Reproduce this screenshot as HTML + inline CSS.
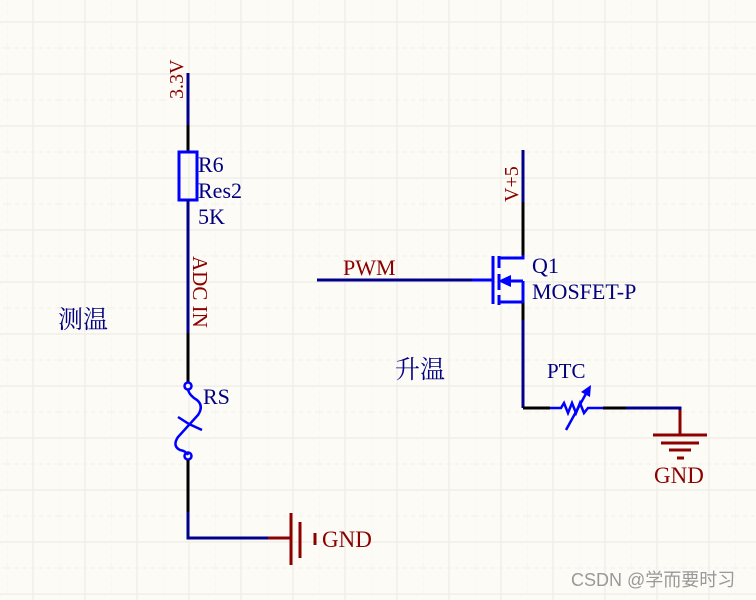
<!DOCTYPE html>
<html><head><style>
html,body{margin:0;padding:0;background:#fdfbf6;}
svg{display:block;}
text{font-family:"Liberation Serif","Noto Serif CJK SC",serif;}
</style></head><body>
<svg width="756" height="600" viewBox="0 0 756 600" xmlns="http://www.w3.org/2000/svg">
<defs>
<pattern id="g" x="7" y="-5" width="52" height="52" patternUnits="userSpaceOnUse">
<line x1="26" y1="0" x2="26" y2="52" stroke="#f0eee8" stroke-width="1.5"/>
<line x1="0" y1="27" x2="52" y2="27" stroke="#f0eee8" stroke-width="1.5"/>
<line x1="0" y1="0" x2="0" y2="52" stroke="#f3f1eb" stroke-width="1.2" stroke-dasharray="4,4"/>
<line x1="0" y1="1" x2="52" y2="1" stroke="#f3f1eb" stroke-width="1.2" stroke-dasharray="4,4"/>
</pattern>
</defs>
<rect width="756" height="600" fill="#fdfbf6"/>
<rect width="756" height="600" fill="url(#g)"/>

<!-- left circuit -->
<line x1="188" y1="73" x2="188" y2="125" stroke="#00008c" stroke-width="3"/>
<line x1="188" y1="125" x2="188" y2="152" stroke="#000" stroke-width="3"/>
<rect x="179" y="152" width="18" height="48" fill="none" stroke="#0000ff" stroke-width="3"/>
<line x1="188" y1="200" x2="188" y2="333" stroke="#00008c" stroke-width="3"/>
<line x1="188" y1="333" x2="188" y2="382" stroke="#000" stroke-width="3"/>
<circle cx="188" cy="386" r="3.5" fill="none" stroke="#0000ff" stroke-width="2.5"/>
<path d="M188 390 Q190 396 197 400 Q204 406 198 415 L178 437 Q172 446 180 450 Q186 451 188 455" fill="none" stroke="#0000ff" stroke-width="2.5"/>
<path d="M178 417 L189 424 L202 430" fill="none" stroke="#0000ff" stroke-width="2.5"/>
<circle cx="188" cy="456" r="3.5" fill="none" stroke="#0000ff" stroke-width="2.5"/>
<line x1="188" y1="460" x2="188" y2="512" stroke="#000" stroke-width="3"/>
<polyline points="188,512 188,538 268,538" fill="none" stroke="#00008c" stroke-width="3"/>
<line x1="268" y1="538" x2="291" y2="538" stroke="#8c0000" stroke-width="3"/>
<line x1="291" y1="513" x2="291" y2="565" stroke="#8c0000" stroke-width="3"/>
<line x1="300" y1="522" x2="300" y2="558" stroke="#8c0000" stroke-width="3"/>
<line x1="315" y1="533" x2="315" y2="545" stroke="#8c0000" stroke-width="3"/>
<text x="322" y="547" font-size="23" fill="#8c0000">GND</text>

<text transform="translate(183,99) rotate(-90)" font-size="20" fill="#8c0000">3.3V</text>
<text x="198" y="172" font-size="22" fill="#000080">R6</text>
<text x="198" y="198" font-size="22" fill="#000080">Res2</text>
<text x="198" y="224" font-size="22" fill="#000080">5K</text>
<text transform="translate(193,256) rotate(90)" font-size="21" fill="#8c0000">ADC  IN</text>
<text x="203" y="404" font-size="22" fill="#000080">RS</text>
<text x="58" y="328" font-size="25" fill="#000080">测温</text>

<!-- right circuit -->
<line x1="523" y1="150" x2="523" y2="202" stroke="#00008c" stroke-width="3"/>
<line x1="523" y1="202" x2="523" y2="255" stroke="#000" stroke-width="3"/>
<polyline points="498,258 523,258 523,255" fill="none" stroke="#0000ff" stroke-width="3"/>
<polyline points="498,302 523,302 523,281" fill="none" stroke="#0000ff" stroke-width="3"/>
<line x1="508" y1="281" x2="523" y2="281" stroke="#0000ff" stroke-width="3"/>
<polygon points="498,281 511,275 511,287" fill="#0000ff"/>
<line x1="493" y1="256" x2="493" y2="304" stroke="#0000ff" stroke-width="3"/>
<line x1="499" y1="256" x2="499" y2="268" stroke="#0000ff" stroke-width="3"/>
<line x1="499" y1="274" x2="499" y2="290" stroke="#0000ff" stroke-width="3"/>
<line x1="499" y1="295" x2="499" y2="305" stroke="#0000ff" stroke-width="3"/>
<line x1="317" y1="280" x2="472" y2="280" stroke="#00008c" stroke-width="3"/>
<line x1="472" y1="280" x2="493" y2="280" stroke="#0000ff" stroke-width="3"/>
<line x1="523" y1="303" x2="523" y2="320" stroke="#000" stroke-width="3"/>
<line x1="523" y1="320" x2="523" y2="408" stroke="#00008c" stroke-width="3"/>
<line x1="523" y1="408" x2="550" y2="408" stroke="#000" stroke-width="3"/>
<polyline points="550,408 561,408 564,403 568,413 572,403 576,413 580,403 584,413 588,408 603,408" fill="none" stroke="#0000ff" stroke-width="2.5"/>
<line x1="566" y1="430" x2="588" y2="390" stroke="#0000ff" stroke-width="2.5"/>
<polygon points="591,385 581,392 590,397" fill="#0000ff"/>
<line x1="603" y1="408" x2="626" y2="408" stroke="#000" stroke-width="3"/>
<polyline points="626,408 680,408 680,412" fill="none" stroke="#00008c" stroke-width="3"/>
<line x1="680" y1="410" x2="680" y2="435" stroke="#8c0000" stroke-width="3"/>
<line x1="653" y1="435" x2="707" y2="435" stroke="#8c0000" stroke-width="3"/>
<line x1="661" y1="443" x2="699" y2="443" stroke="#8c0000" stroke-width="3"/>
<line x1="669" y1="450" x2="691" y2="450" stroke="#8c0000" stroke-width="3"/>
<line x1="677" y1="458" x2="684" y2="458" stroke="#8c0000" stroke-width="3"/>
<text x="654" y="483" font-size="23" fill="#8c0000">GND</text>

<text transform="translate(518,202) rotate(-90)" font-size="20" fill="#8c0000">V+5</text>
<text x="343" y="275" font-size="22" fill="#8c0000">PWM</text>
<text x="532" y="273" font-size="22" fill="#000080">Q1</text>
<text x="532" y="299" font-size="22" fill="#000080">MOSFET-P</text>
<text x="547" y="378" font-size="21" fill="#000080">PTC</text>
<text x="395" y="378" font-size="25" fill="#000080">升温</text>

<text x="571" y="586" font-size="18" fill="#999" style="font-family:'Liberation Sans','Noto Sans CJK SC',sans-serif">CSDN @学而要时习</text>
</svg>
</body></html>
